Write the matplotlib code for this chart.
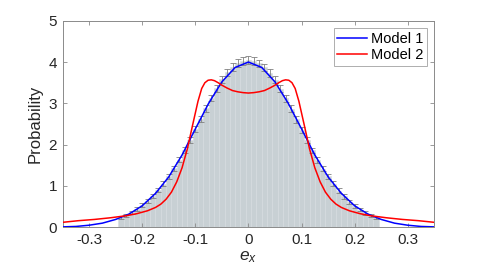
import numpy as np
import matplotlib
matplotlib.use('Agg')
import matplotlib.pyplot as plt

plt.rcParams['font.family'] = ['Liberation Sans', 'DejaVu Sans']
plt.rcParams['axes.unicode_minus'] = False
plt.rcParams['mathtext.fontset'] = 'custom'
plt.rcParams['mathtext.it'] = 'Liberation Sans:italic'
plt.rcParams['mathtext.rm'] = 'Liberation Sans'

# Histogram (bin centres every 0.01), heights and error half-lengths
bin_width = 0.01
bin_centres = np.round(np.arange(-0.24, 0.2401, 0.01), 3)
hist_heights = [0.24, 0.29, 0.36, 0.44, 0.53, 0.63, 0.76, 0.90, 1.06, 1.24,
                1.43, 1.64, 1.87, 2.12, 2.37, 2.62, 2.88, 3.13, 3.37, 3.58,
                3.75, 3.88, 3.98, 4.03, 4.05,
                4.03, 3.97, 3.87, 3.74, 3.57, 3.36, 3.12, 2.87, 2.61, 2.36,
                2.11, 1.86, 1.63, 1.42, 1.23, 1.05, 0.89, 0.75, 0.62, 0.52,
                0.43, 0.35, 0.29, 0.24]
hist_err = [0.04, 0.04, 0.045, 0.045, 0.05, 0.05, 0.055, 0.055, 0.06, 0.06,
            0.065, 0.065, 0.07, 0.07, 0.075, 0.075, 0.08, 0.08, 0.085, 0.085,
            0.09, 0.09, 0.09, 0.095, 0.095,
            0.095, 0.09, 0.09, 0.09, 0.085, 0.085, 0.08, 0.08, 0.075, 0.075,
            0.07, 0.07, 0.065, 0.065, 0.06, 0.06, 0.055, 0.055, 0.05, 0.05,
            0.045, 0.045, 0.04, 0.04]

# Model 1 curve
m1_x = [-0.35, -0.325, -0.30, -0.275, -0.25, -0.225, -0.20, -0.175, -0.15,
        -0.125, -0.10, -0.075, -0.05, -0.025, 0.0,
        0.025, 0.05, 0.075, 0.10, 0.125, 0.15, 0.175, 0.20, 0.225, 0.25,
        0.275, 0.30, 0.325, 0.35]
m1_y = [0.01, 0.02, 0.05, 0.10, 0.19, 0.32, 0.52, 0.82, 1.22,
        1.75, 2.38, 3.00, 3.52, 3.87, 4.00,
        3.87, 3.52, 3.00, 2.38, 1.75, 1.22, 0.82, 0.52, 0.32, 0.19,
        0.10, 0.05, 0.02, 0.01]

# Model 2 curve
m2_x = [-0.35, -0.32, -0.29, -0.26, -0.23, -0.21, -0.19, -0.175, -0.165,
        -0.155, -0.145, -0.135, -0.125, -0.115, -0.105, -0.095, -0.088,
        -0.082, -0.076, -0.07, -0.064, -0.057, -0.05, -0.04, -0.03, -0.02,
        -0.01, 0.0,
        0.01, 0.02, 0.03, 0.04, 0.05, 0.057, 0.064, 0.07, 0.076, 0.082,
        0.088, 0.095, 0.105, 0.115, 0.125, 0.135, 0.145, 0.155, 0.165,
        0.175, 0.19, 0.21, 0.23, 0.26, 0.29, 0.32, 0.35]
m2_y = [0.12, 0.16, 0.19, 0.23, 0.28, 0.33, 0.40, 0.48, 0.56,
        0.68, 0.85, 1.10, 1.44, 1.90, 2.48, 3.05, 3.36,
        3.50, 3.56, 3.57, 3.55, 3.50, 3.44, 3.37, 3.31, 3.28,
        3.26, 3.25,
        3.26, 3.28, 3.31, 3.37, 3.44, 3.50, 3.55, 3.57, 3.56, 3.50,
        3.36, 3.05, 2.48, 1.90, 1.44, 1.10, 0.85, 0.68, 0.56,
        0.48, 0.40, 0.33, 0.28, 0.23, 0.19, 0.16, 0.12]

xticks = [-0.3, -0.2, -0.1, 0, 0.1, 0.2, 0.3]
xticklabels = ['-0.3', '-0.2', '-0.1', '0', '0.1', '0.2', '0.3']
yticks = [0, 1, 2, 3, 4, 5]

fig = plt.figure(figsize=(4.81, 2.75), dpi=100)
ax = fig.add_axes([0.130, 0.1735, 0.773, 0.751])

ax.bar(bin_centres, hist_heights, width=bin_width, color='#c8d0d4',
       edgecolor='#d6dcdf', linewidth=0.4, zorder=1)
ax.errorbar(bin_centres, hist_heights, yerr=hist_err, fmt='none',
            ecolor='#808080', elinewidth=0.6, capsize=2.0, capthick=0.6,
            zorder=2)

ax.plot(m1_x, m1_y, color='#0000ff', linewidth=1.1, label='Model 1', zorder=3)
ax.plot(m2_x, m2_y, color='#ff0000', linewidth=1.1, label='Model 2', zorder=3)

ax.set_xlim(-0.35, 0.35)
ax.set_ylim(0, 5)
ax.set_xticks(xticks)
ax.set_xticklabels(xticklabels)
ax.set_yticks(yticks)

for s in ax.spines.values():
    s.set_color('#8a8a8a')
    s.set_linewidth(0.7)
ax.tick_params(direction='in', top=True, right=True, length=3, width=0.6,
               color='#8a8a8a', labelcolor='#262626', labelsize=11, pad=4)

ax.set_ylabel('Probability', fontsize=12, color='#262626', labelpad=4)
ax.set_xlabel('$e_x$', fontsize=12.5, color='#262626', labelpad=2)

leg = ax.legend(loc='upper right', fontsize=10.5, frameon=True, fancybox=False,
                handlelength=2.0, handletextpad=0.3, borderpad=0.25,
                labelspacing=0.15, borderaxespad=0.5)
leg.get_frame().set_edgecolor('#9a9a9a')
leg.get_frame().set_linewidth(0.7)

plt.savefig('out.png', dpi=100)
